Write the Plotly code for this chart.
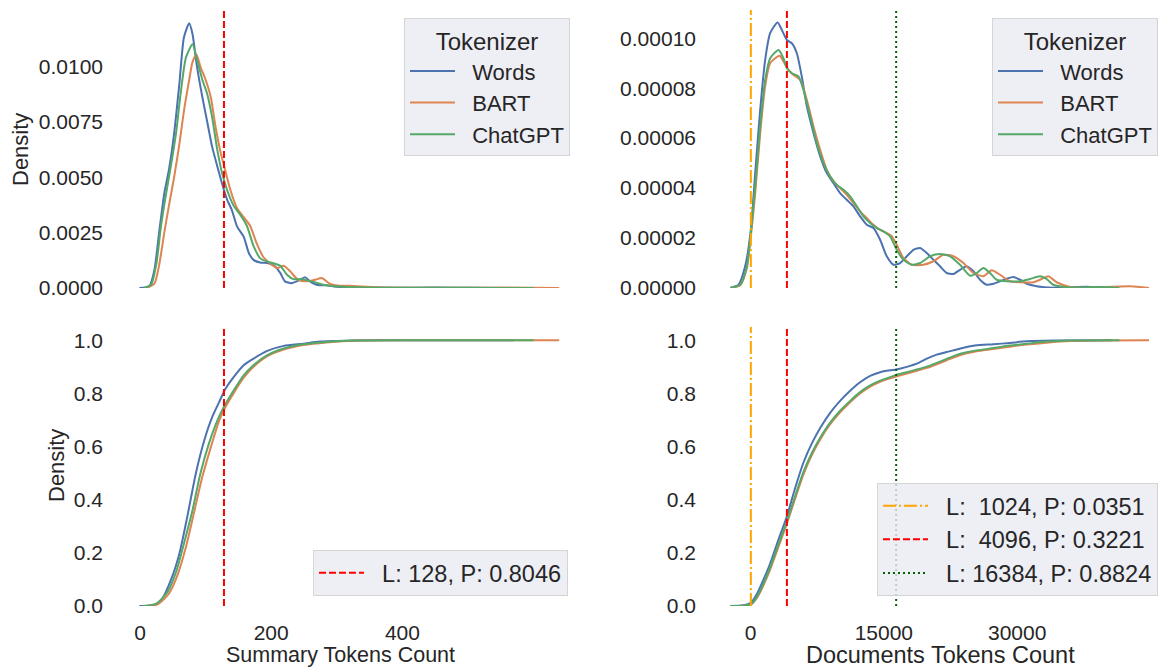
import plotly.graph_objects as go

# ---------------- data ----------------
tokenizers = ["Words", "BART", "ChatGPT"]
colors = ["#4c72b0", "#dd8452", "#55a868"]

# Summary token count density (KDE)
sum_pdf_x_words = [-1, 14, 22, 29, 37, 44, 52, 60, 67, 75, 80, 87, 95, 102, 110, 118, 125, 133, 140, 148,
                   158, 166, 173, 183, 196, 206, 214, 221, 231, 244, 252, 259, 269, 284, 305, 350, 400, 450, 500, 570]
sum_pdf_words = [0, 0.00007, 0.00082, 0.00247, 0.00427, 0.00532, 0.00697, 0.00922, 0.01132, 0.01195, 0.01147,
                 0.00997, 0.00862, 0.00757, 0.00637, 0.00547, 0.00472, 0.00397, 0.00352, 0.00277, 0.00232,
                 0.00157, 0.00127, 0.00115, 0.00112, 0.00097, 0.00067, 0.0003, 0.00022, 0.00037, 0.00048,
                 0.0003, 0.00015, 0.00012, 0.00005, 0.00002, 0.00001, 0.00002, 0.00001, 0]
sum_pdf_x_bart = [9, 22, 29, 37, 44, 52, 60, 67, 75, 80, 86, 92, 100, 108, 115, 123, 130, 138, 148, 158, 168,
                  178, 188, 198, 209, 219, 229, 241, 254, 267, 277, 289, 304, 319, 360, 420, 500, 560, 639]
sum_pdf_bart = [0, 0.0002, 0.001, 0.0025, 0.0037, 0.005, 0.0065, 0.008, 0.0094, 0.0102, 0.01054, 0.0100,
                0.0094, 0.0086, 0.0073, 0.0061, 0.0053, 0.0044, 0.0036, 0.0032, 0.0028, 0.002, 0.0014,
                0.00112, 0.0009, 0.001, 0.00075, 0.00037, 0.0003, 0.00037, 0.00045, 0.0002, 0.0001, 0.0001,
                0.00003, 0.00001, 0.00001, 0.00002, 0]
sum_pdf_x_chatgpt = [6, 17, 25, 32, 40, 47, 55, 62, 70, 80, 87, 95, 102, 110, 118, 125, 133, 143, 153, 163,
                     173, 183, 193, 203, 214, 224, 234, 246, 262, 279, 299, 330, 400, 500, 600]
sum_pdf_chatgpt = [0, 0.00015, 0.0011, 0.0028, 0.0043, 0.0055, 0.007, 0.0088, 0.0104, 0.0110, 0.0103, 0.0094,
                   0.0088, 0.0077, 0.0062, 0.0052, 0.0044, 0.0037, 0.0033, 0.0028, 0.0019, 0.00135, 0.0012,
                   0.00112, 0.001, 0.0006, 0.0004, 0.0004, 0.0003, 0.00015, 0.00008, 0.00003, 0.00001,
                   0.00001, 0]

# Summary token count cumulative density
sum_cdf_x_words = [-1, 22, 34, 47, 60, 72, 85, 98, 110, 123, 129, 143, 158, 173, 194, 219, 249, 274, 325, 400, 570]
sum_cdf_words = [0, 0.003, 0.028, 0.097, 0.197, 0.335, 0.498, 0.624, 0.711, 0.78, 0.812, 0.862, 0.906, 0.931,
                 0.96, 0.979, 0.987, 0.995, 0.999, 1.0, 1.0]
sum_cdf_x_bart = [7, 27, 44, 57, 70, 82, 95, 108, 120, 129, 143, 158, 173, 194, 219, 249, 284, 335, 420, 639]
sum_cdf_bart = [0, 0.006, 0.046, 0.115, 0.222, 0.348, 0.486, 0.598, 0.693, 0.743, 0.802, 0.859, 0.9, 0.94,
                0.965, 0.982, 0.992, 0.999, 1.0, 1.0]
sum_cdf_x_chatgpt = [5, 25, 42, 55, 67, 80, 92, 105, 118, 129, 143, 158, 173, 194, 219, 249, 274, 325, 400, 600]
sum_cdf_chatgpt = [0, 0.009, 0.053, 0.128, 0.235, 0.36, 0.498, 0.611, 0.699, 0.755, 0.812, 0.868, 0.906, 0.944,
                   0.969, 0.985, 0.992, 0.999, 1.0, 1.0]

# Documents token count density (KDE)
doc_pdf_x_words = [-2280, -1350, -600, 40, 530, 1090, 1650, 2210, 3040, 3530, 4090, 4650, 5210, 5770, 6340,
                   7090, 7840, 8580, 9330, 10080, 10830, 11580, 12330, 13080, 13830, 14580, 15330, 16080,
                   16830, 17580, 18330, 19080, 19830, 20580, 21320, 22070, 22820, 23570, 24320, 25070, 25820,
                   26570, 27320, 28070, 28820, 29570, 30320, 31070, 32190, 34060, 37810, 39680, 40600]
doc_pdf_words = [0, 0.13e-5, 0.87e-5, 2.33e-5, 4.6e-5, 7.13e-5, 9.13e-5, 10.2e-5, 10.63e-5, 10.33e-5, 9.93e-5,
                 9.8e-5, 9.4e-5, 8.47e-5, 7.27e-5, 6.2e-5, 5.27e-5, 4.6e-5, 4.2e-5, 3.8e-5, 3.53e-5, 3.27e-5,
                 2.87e-5, 2.53e-5, 2.4e-5, 1.93e-5, 1.27e-5, 0.93e-5, 1.0e-5, 1.27e-5, 1.53e-5, 1.6e-5, 1.4e-5,
                 1.13e-5, 0.87e-5, 0.6e-5, 0.56e-5, 0.73e-5, 0.87e-5, 0.67e-5, 0.33e-5, 0.13e-5, 0.17e-5,
                 0.27e-5, 0.37e-5, 0.44e-5, 0.33e-5, 0.17e-5, 0.07e-5, 0.01e-5, 0.05e-5, 0.01e-5, 0]
doc_pdf_x_bart = [-2280, -1160, -410, 40, 530, 1090, 1650, 2210, 3260, 3710, 4280, 4840, 5590, 6340, 7090,
                  7840, 8580, 9330, 10080, 10830, 11580, 12330, 13080, 13830, 14580, 15330, 15890, 16450, 17200,
                  18140, 19450, 20580, 21700, 22820, 23950, 25070, 26200, 27130, 28070, 29190, 30320, 31820,
                  32750, 33500, 34440, 35940, 37810, 42680, 44830]
doc_pdf_bart = [0, 0.11e-5, 0.8e-5, 2.07e-5, 3.8e-5, 6.2e-5, 8.07e-5, 9.0e-5, 9.3e-5, 9.07e-5, 8.73e-5, 8.53e-5,
                8.33e-5, 7.53e-5, 6.47e-5, 5.53e-5, 4.73e-5, 4.27e-5, 4.0e-5, 3.73e-5, 3.4e-5, 3.07e-5, 2.8e-5,
                2.53e-5, 2.33e-5, 2.2e-5, 2.07e-5, 1.73e-5, 1.2e-5, 0.93e-5, 0.93e-5, 1.07e-5, 1.33e-5,
                1.27e-5, 1.0e-5, 0.6e-5, 0.47e-5, 0.71e-5, 0.53e-5, 0.27e-5, 0.23e-5, 0.23e-5, 0.36e-5,
                0.47e-5, 0.23e-5, 0.04e-5, 0.01e-5, 0.07e-5, 0]
doc_pdf_x_chatgpt = [-2280, -1160, -410, 40, 530, 1090, 1650, 2210, 3150, 3710, 4090, 4650, 5400, 5960, 6710,
                     7460, 8210, 8960, 9710, 10460, 11210, 11960, 12710, 13460, 14200, 14950, 15700, 16450,
                     17200, 18140, 19080, 20200, 21320, 22450, 23570, 24700, 25450, 26200, 26940, 27690, 28820,
                     30320, 31440, 32570, 33310, 34060, 35560, 39680, 41500]
doc_pdf_chatgpt = [0, 0.13e-5, 0.87e-5, 2.2e-5, 4.07e-5, 6.47e-5, 8.33e-5, 9.2e-5, 9.53e-5, 9.2e-5, 8.8e-5,
                   8.6e-5, 8.47e-5, 7.93e-5, 6.87e-5, 5.8e-5, 5.0e-5, 4.47e-5, 4.13e-5, 3.93e-5, 3.67e-5,
                   3.27e-5, 2.87e-5, 2.6e-5, 2.4e-5, 2.27e-5, 2.07e-5, 1.53e-5, 1.13e-5, 0.93e-5, 1.0e-5,
                   1.27e-5, 1.36e-5, 1.27e-5, 0.93e-5, 0.49e-5, 0.6e-5, 0.8e-5, 0.6e-5, 0.33e-5, 0.27e-5,
                   0.27e-5, 0.36e-5, 0.47e-5, 0.36e-5, 0.13e-5, 0.03e-5, 0.04e-5, 0]

# Documents token count cumulative density
doc_cdf_x_words = [-2280, -780, 40, 720, 1470, 2210, 3150, 4090, 5030, 5960, 6900, 7840, 8960, 10080, 11210,
                   12330, 13460, 14580, 15700, 16380, 17580, 18700, 19830, 20950, 22070, 23200, 24320, 25450,
                   27320, 29190, 31070, 34060, 40600]
doc_cdf_words = [0, 0.003, 0.012, 0.045, 0.1, 0.16, 0.25, 0.337, 0.445, 0.54, 0.612, 0.67, 0.727, 0.772, 0.81,
                 0.842, 0.866, 0.88, 0.887, 0.89, 0.9, 0.912, 0.931, 0.946, 0.956, 0.965, 0.975, 0.981, 0.985,
                 0.99, 0.996, 0.999, 1.0]
doc_cdf_x_bart = [-2280, -780, 40, 720, 1470, 2210, 3150, 4090, 5030, 5960, 6900, 7840, 8960, 10080, 11210,
                  12330, 13460, 14580, 15700, 16380, 17580, 18700, 19830, 20950, 22070, 23200, 24320, 25450,
                  27320, 29190, 31070, 33310, 36000, 39000, 44830]
doc_cdf_bart = [0, 0.001, 0.005, 0.03, 0.079, 0.137, 0.223, 0.31, 0.405, 0.495, 0.568, 0.627, 0.684, 0.729,
                0.767, 0.8, 0.826, 0.844, 0.857, 0.864, 0.875, 0.885, 0.896, 0.91, 0.925, 0.94, 0.951, 0.959,
                0.967, 0.976, 0.984, 0.991, 0.997, 0.999, 1.0]
doc_cdf_x_chatgpt = [-2280, -780, 40, 720, 1470, 2210, 3150, 4090, 5030, 5960, 6900, 7840, 8960, 10080, 11210,
                     12330, 13460, 14580, 15700, 16380, 17580, 18700, 19830, 20950, 22070, 23200, 24320, 25450,
                     27320, 29190, 31070, 33310, 35940, 41500]
doc_cdf_chatgpt = [0, 0.001, 0.006, 0.034, 0.085, 0.145, 0.232, 0.318, 0.415, 0.505, 0.576, 0.633, 0.69,
                   0.735, 0.772, 0.805, 0.83, 0.848, 0.861, 0.87, 0.88, 0.89, 0.901, 0.915, 0.93, 0.945, 0.955,
                   0.962, 0.971, 0.98, 0.987, 0.995, 0.999, 1.0]

# Length limits (L) and share of samples below them (P)
sum_limits = [128]
sum_props = [0.8046]
sum_line_x = [128]
doc_limits = [1024, 4096, 16384]
doc_props = [0.0351, 0.3221, 0.8824]
doc_line_x = [40, 4096, 16384]          # where the lines sit in the reference
sum_line_styles = [("red", "7px,3px")]
doc_line_styles = [("orange", "13px,3px,2px,3px"), ("red", "7px,3px"), ("darkgreen", "2px,3px")]

sum_xticks = [0, 200, 400]
doc_xticks = [0, 15000, 30000]

# ---------------- layout helpers ----------------
W, H = 1158, 669
FONT = "Liberation Sans, Arial, sans-serif"
TXT = "#262626"
PAD = "\u00a0\u00a0"   # gap between legend handle and label


def fx(p):
    return p / W


def fy(p):
    return 1 - p / H


sum_xrange = [-36.6, 675.3]
doc_xrange = [-4668, 45838]
sum_pdf_top = 0.01255
doc_pdf_top = 0.0001113
cdf_top = 1.05

fig = go.Figure()

panels = [
    ("x", "y", [(sum_pdf_x_words, sum_pdf_words), (sum_pdf_x_bart, sum_pdf_bart), (sum_pdf_x_chatgpt, sum_pdf_chatgpt)], "legend", True),
    ("x2", "y2", [(doc_pdf_x_words, doc_pdf_words), (doc_pdf_x_bart, doc_pdf_bart), (doc_pdf_x_chatgpt, doc_pdf_chatgpt)], "legend2", True),
    ("x3", "y3", [(sum_cdf_x_words, sum_cdf_words), (sum_cdf_x_bart, sum_cdf_bart), (sum_cdf_x_chatgpt, sum_cdf_chatgpt)], "legend3", False),
    ("x4", "y4", [(doc_cdf_x_words, doc_cdf_words), (doc_cdf_x_bart, doc_cdf_bart), (doc_cdf_x_chatgpt, doc_cdf_chatgpt)], "legend4", False),
]

for xa, ya, series, leg, show in panels:
    for name, col, (xs, ys) in zip(tokenizers, colors, series):
        fig.add_trace(go.Scatter(
            x=xs, y=ys, mode="lines", name=PAD + name,
            line=dict(color=col, width=2, shape="spline", smoothing=0.6),
            xaxis=xa, yaxis=ya, legend=leg, showlegend=show, hoverinfo="skip"))


def add_vlines(xa, ya, xs, limits, props, styles, top, leg, show):
    for xv, L, P, (col, dash) in zip(xs, limits, props, styles):
        if len(limits) == 1:
            label = f"L: {L}, P: {P:.4f}"
        else:
            label = f"L: {L:5d}, P: {P:.4f}".replace("  ", " \u00a0")
        fig.add_trace(go.Scatter(
            x=[xv, xv], y=[0, top], mode="lines", name=PAD + label,
            line=dict(color=col, width=2, dash=dash),
            xaxis=xa, yaxis=ya, legend=leg, showlegend=show, hoverinfo="skip"))


add_vlines("x", "y", sum_line_x, sum_limits, sum_props, sum_line_styles, sum_pdf_top, "legend", False)
add_vlines("x2", "y2", doc_line_x, doc_limits, doc_props, doc_line_styles, doc_pdf_top, "legend2", False)
add_vlines("x3", "y3", sum_line_x, sum_limits, sum_props, sum_line_styles, cdf_top, "legend3", True)
add_vlines("x4", "y4", doc_line_x, doc_limits, doc_props, doc_line_styles, cdf_top, "legend4", True)

xl = [fx(116), fx(583)]
xr = [fx(709), 1.0]
yt = [fy(288), fy(10)]
yb = [fy(606), fy(327)]

common = dict(showgrid=False, zeroline=False, showline=False, ticks="", automargin=False,
              tickfont=dict(size=21, family=FONT, color=TXT), ticklabelstandoff=12)

legend_base = dict(bgcolor="rgba(234,234,242,0.8)", bordercolor="rgba(204,204,204,0.8)", borderwidth=1,
                   xanchor="right", yanchor="top", xref="paper", yref="paper", tracegroupgap=0, itemwidth=45)
top_legend = dict(font=dict(size=22, family=FONT, color=TXT),
                  title=dict(text="Tokenizer", side="top center", font=dict(size=24, family=FONT, color=TXT)),
                  **legend_base)
bot_legend = dict(font=dict(size=23.5, family=FONT, color=TXT), **legend_base)
lab_font = dict(size=22, family=FONT, color=TXT)

fig.update_layout(
    template="none",
    width=W, height=H, autosize=False,
    margin=dict(l=0, r=0, t=0, b=0, pad=0, autoexpand=False),
    paper_bgcolor="white", plot_bgcolor="white",
    font=dict(family=FONT, color=TXT),
    xaxis=dict(domain=xl, anchor="y", range=sum_xrange, tickvals=sum_xticks, showticklabels=False, **common),
    yaxis=dict(domain=yt, anchor="x", range=[0, sum_pdf_top], tickvals=[0, 0.0025, 0.005, 0.0075, 0.01],
               tickformat=".4f", **common),
    xaxis2=dict(domain=xr, anchor="y2", range=doc_xrange, tickvals=doc_xticks, showticklabels=False, **common),
    yaxis2=dict(domain=yt, anchor="x2", range=[0, doc_pdf_top], tickvals=[0, 2e-5, 4e-5, 6e-5, 8e-5, 1e-4],
                tickformat=".5f", **common),
    xaxis3=dict(domain=xl, anchor="y3", range=sum_xrange, tickvals=sum_xticks, tickformat="d", **common),
    yaxis3=dict(domain=yb, anchor="x3", range=[0, cdf_top], tickvals=[0, 0.2, 0.4, 0.6, 0.8, 1.0],
                tickformat=".1f", **common),
    xaxis4=dict(domain=xr, anchor="y4", range=doc_xrange, tickvals=doc_xticks, tickformat="d", **common),
    yaxis4=dict(domain=yb, anchor="x4", range=[0, cdf_top], tickvals=[0, 0.2, 0.4, 0.6, 0.8, 1.0],
                tickformat=".1f", **common),
    legend=dict(x=fx(570), y=fy(18), **top_legend),
    legend2=dict(x=1.0, y=fy(18), **top_legend),
    legend3=dict(x=fx(568), y=fy(550), **bot_legend),
    legend4=dict(x=1.0, y=fy(483), **bot_legend),
    annotations=[
        dict(text="Density", x=fx(20), y=fy(150), xref="paper", yref="paper", textangle=-90,
             xanchor="center", yanchor="middle", showarrow=False, font=lab_font),
        dict(text="Density", x=fx(56), y=fy(466), xref="paper", yref="paper", textangle=-90,
             xanchor="center", yanchor="middle", showarrow=False, font=lab_font),
        dict(text="Summary Tokens Count", x=fx(340), y=fy(655), xref="paper", yref="paper",
             xanchor="center", yanchor="middle", showarrow=False,
             font=dict(size=21.5, family=FONT, color=TXT)),
        dict(text="Documents Tokens Count", x=fx(940), y=fy(655), xref="paper", yref="paper",
             xanchor="center", yanchor="middle", showarrow=False,
             font=dict(size=23.5, family=FONT, color=TXT)),
    ],
)

fig.write_html(
    "out.html",
    config={"displayModeBar": False, "responsive": False},
    post_script="document.body.style.margin='0';document.body.style.padding='0';"
                "document.documentElement.style.overflow='hidden';",
)
